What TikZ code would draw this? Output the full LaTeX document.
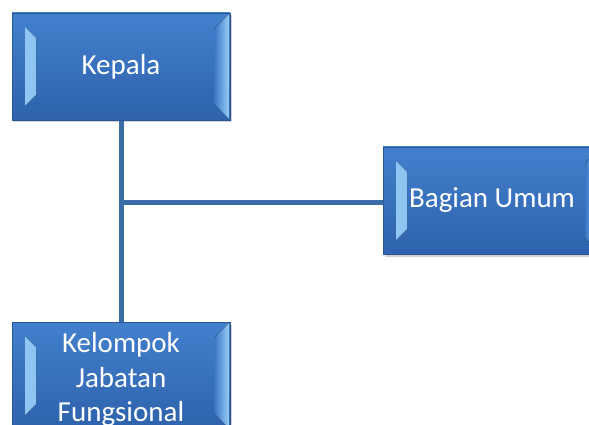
\documentclass[tikz,border=0pt]{standalone}
\usepackage{fontspec}
\setmainfont{Carlito}
\usetikzlibrary{calc}
\definecolor{boxblue}{RGB}{58,117,196}
\definecolor{boxtop}{RGB}{66,128,205}
\definecolor{boxbot}{RGB}{46,98,172}
\definecolor{boxedge}{RGB}{40,86,150}
\definecolor{bevlight}{RGB}{150,205,245}
\definecolor{linecol}{RGB}{58,108,168}
\tikzset{
  bevelbox/.style={
    rectangle, minimum width=218pt, minimum height=107pt, inner sep=2pt,
    align=center, text=white, font=\fontsize{29}{34.5}\selectfont,
    top color=boxtop, bottom color=boxbot, draw=boxedge, line width=0.6pt,
    path picture={
      \fill[left color=bevlight, right color=boxblue]
        ($(path picture bounding box.north west)+(13,14)$) --
        ($(path picture bounding box.north west)+(24,25)$) --
        ($(path picture bounding box.south west)+(24,-25)$) --
        ($(path picture bounding box.south west)+(13,-14)$) -- cycle;
      \fill[left color=boxblue, right color=bevlight]
        ($(path picture bounding box.north east)+(-1,1)$) --
        ($(path picture bounding box.north east)+(-16,16)$) --
        ($(path picture bounding box.south east)+(-16,-16)$) --
        ($(path picture bounding box.south east)+(-1,-1)$) -- cycle;
    }
  },
  shadowbox/.style={fill=black!35, opacity=0.5, minimum width=218pt, minimum height=107pt, inner sep=0pt},
  conn/.style={draw=linecol, line width=5pt}
}
\begin{document}
\begin{tikzpicture}[x=1pt,y=-1pt]
\useasboundingbox (0,0) rectangle (589,425);
\clip (0,0) rectangle (589,425);
\fill[white] (0,0) rectangle (589,425);
% shadows
\node[shadowbox] (kepS) at (122.5,69) {};
\node[shadowbox] (bagS) at (493.5,203) {};
\node[shadowbox] (kelS) at (122.5,378) {};
% boxes
\node[bevelbox] (kep) at (121,66.5) {Kepala};
\node[bevelbox] (bag) at (492,200.5) {Bagian Umum};
\node[bevelbox] (kel) at (121,375.5) {};
% connectors
\coordinate (j) at ($(kep.south |- bag.west)+(0,1.5)$);
\draw[conn] (kep.south) -- (kel.north);
\draw[conn] (j) -- ($(bag.west)+(0,1.5)$);
% redraw boxes on top of connectors
\node[bevelbox] at (kep) {Kepala};
\node[bevelbox] at (bag) {Bagian Umum};
\node[bevelbox] at (kel) {};
\node[align=center, text=white, font=\fontsize{29}{34.5}\selectfont, inner sep=0pt] (keltext) at ($(kel.center)+(0,4)$) {Kelompok\\Jabatan\\Fungsional};
\end{tikzpicture}
\end{document}
